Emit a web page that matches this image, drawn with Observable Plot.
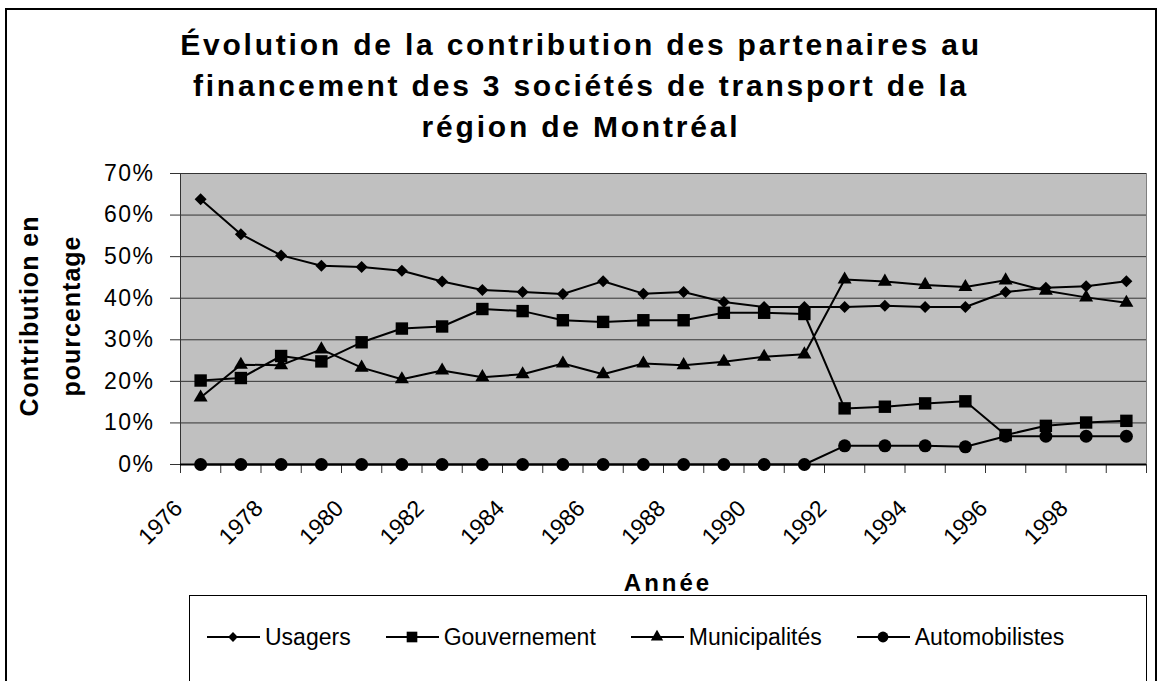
<!DOCTYPE html>
<html>
<head>
<meta charset="utf-8">
<script src="https://cdn.jsdelivr.net/npm/d3@7"></script>
<script src="https://cdn.jsdelivr.net/npm/@observablehq/plot@0.6"></script>
<style>
  body { margin: 0; background: #fff; font-family: "Liberation Sans", Arial, sans-serif; color: #000; }
  #wrap { position: relative; width: 1161px; height: 681px; overflow: hidden; background: #fff; }
  #chart { position: absolute; left: 0; top: 0; }
  #frame { position: absolute; left: 5px; top: 8px; width: 1152px; height: 720px; border: 2px solid #000; box-sizing: border-box; pointer-events: none; }
  #title { position: absolute; left: 5px; top: 24px; width: 1152px; text-align: center; font-weight: bold; font-size: 30px; line-height: 41px; letter-spacing: 2.8px; }
  #ytitle { position: absolute; left: -80px; top: 274px; width: 260px; height: 84px; text-align: center; font-weight: bold; font-size: 25px; line-height: 42px; letter-spacing: 1px; transform: rotate(-90deg); }
  #xtitle { position: absolute; left: 468px; top: 570px; width: 400px; text-align: center; font-weight: bold; font-size: 24px; line-height: 26px; letter-spacing: 3px; }
  #legend { position: absolute; left: 189px; top: 595px; width: 958px; height: 120px; border: 1px solid #000; box-sizing: border-box; background: #fff; }
  #legend .row { position: absolute; left: 17px; top: 26px; height: 30px; display: flex; align-items: center; font-size: 23px; line-height: 30px; }
  #legend .item { display: flex; align-items: center; margin-right: 35px; }
  #legend .item svg { margin-right: 5px; }
  #chart g[aria-label="y-axis tick label"] text { letter-spacing: 1.5px; }
</style>
</head>
<body>
<div id="wrap">
  <div id="chart"></div>
  <div id="title">Évolution de la contribution des partenaires au<br>financement des 3 sociétés de transport de la<br>région de Montréal</div>
  <div id="ytitle">Contribution en<br>pourcentage</div>
  <div id="xtitle">Année</div>
  <div id="legend"><div class="row"></div></div>
  <div id="frame"></div>
</div>
<script>
// ---- Data (percent) ----
const years = [1976, 1977, 1978, 1979, 1980, 1981, 1982, 1983, 1984, 1985, 1986, 1987,
               1988, 1989, 1990, 1991, 1992, 1993, 1994, 1995, 1996, 1997, 1998, 1999];
const usagers = [63.8, 55.4, 50.3, 47.8, 47.5, 46.6, 44.0, 42.0, 41.5, 41.0, 44.1, 41.1,
                 41.5, 39.1, 37.9, 37.9, 37.9, 38.2, 37.9, 37.9, 41.5, 42.5, 42.9, 44.1];
const gouvernement = [20.2, 20.8, 26.1, 24.8, 29.4, 32.7, 33.2, 37.4, 36.9, 34.7, 34.3, 34.7,
                      34.7, 36.5, 36.5, 36.2, 13.5, 13.9, 14.7, 15.2, 7.1, 9.3, 10.1, 10.5];
const municipalites = [16.1, 24.0, 23.9, 27.7, 23.3, 20.5, 22.6, 21.0, 21.7, 24.3, 21.7, 24.3,
                       23.9, 24.7, 25.9, 26.5, 44.5, 44.0, 43.2, 42.7, 44.3, 41.8, 40.2, 38.9];
const automobilistes = [0, 0, 0, 0, 0, 0, 0, 0, 0, 0, 0, 0,
                        0, 0, 0, 0, 4.5, 4.5, 4.5, 4.25, 6.8, 6.8, 6.8, 6.8];
const seriesNames = ["Usagers", "Gouvernement", "Municipalités", "Automobilistes"];
const yTicks = [0, 10, 20, 30, 40, 50, 60, 70];
const xLabelYears = [1976, 1978, 1980, 1982, 1984, 1986, 1988, 1990, 1992, 1994, 1996, 1998];

// ---- Build table ----
const seriesValues = [usagers, gouvernement, municipalites, automobilistes];
const symbols = [
  {symbol: "diamond2", r: 5.4, lr: 4.4},
  {symbol: "square", r: 7.0, lr: 6.0},
  {symbol: "triangle", r: 5.2, lr: 4.6},
  {symbol: "circle", r: 6.5, lr: 5.4}
];
const rows = [];
seriesNames.forEach((s, i) => years.forEach((yr, j) => rows.push({series: s, year: yr, value: seriesValues[i][j]})));
const bounds = years.map(y => y - 0.5).concat([years[years.length - 1] + 0.5]);

const chart = Plot.plot({
  width: 1161,
  height: 595,
  marginTop: 173,
  marginLeft: 180,
  marginRight: 15,
  marginBottom: 131,
  style: {background: "transparent", fontFamily: "'Liberation Sans', Arial, sans-serif", color: "#000"},
  x: {domain: [bounds[0], bounds[bounds.length - 1]]},
  y: {domain: [0, 70]},
  marks: [
    Plot.frame({fill: "#c0c0c0", stroke: "#808080"}),
    Plot.ruleY(yTicks.filter(v => v > 0), {stroke: "#333", strokeWidth: 1}),
    Plot.ruleX([bounds[0]], {stroke: "#333", strokeWidth: 1}),
    Plot.axisY({ticks: yTicks, tickFormat: d => d + "%", tickSize: 10, tickPadding: 16, fontSize: 23, label: null, stroke: "#333"}),
    Plot.axisX({ticks: bounds, tickSize: 9, tickFormat: () => "", label: null, stroke: "#333"}),
    Plot.text(xLabelYears, {x: d => d, frameAnchor: "bottom", rotate: -45, textAnchor: "end", lineAnchor: "middle", dx: -22, dy: 40, fontSize: 23, text: d => String(d), fill: "#000"}),
    Plot.ruleY([0], {stroke: "#000", strokeWidth: 2}),
    Plot.line(rows, {x: "year", y: "value", z: "series", stroke: "#000", strokeWidth: 2}),
    ...seriesNames.map((s, i) => Plot.dot(rows.filter(d => d.series === s), {
      x: "year", y: "value", symbol: symbols[i].symbol, r: symbols[i].r, fill: "#000", stroke: "none"
    }))
  ]
});
document.getElementById("chart").appendChild(chart);

// ---- Legend ----
const row = d3.select("#legend .row");
seriesNames.forEach((s, i) => {
  const item = row.append("div").attr("class", "item");
  const svg = item.append("svg").attr("width", 53).attr("height", 16);
  svg.append("line").attr("x1", 0).attr("x2", 53).attr("y1", 8).attr("y2", 8).attr("stroke", "#000").attr("stroke-width", 2);
  const sym = {diamond2: d3.symbolDiamond2, square: d3.symbolSquare, triangle: d3.symbolTriangle, circle: d3.symbolCircle}[symbols[i].symbol];
  const rr = symbols[i].lr;
  svg.append("path").attr("transform", "translate(26,8)").attr("d", d3.symbol(sym, Math.PI * rr * rr)()).attr("fill", "#000");
  item.append("span").text(s);
});
</script>
</body>
</html>
